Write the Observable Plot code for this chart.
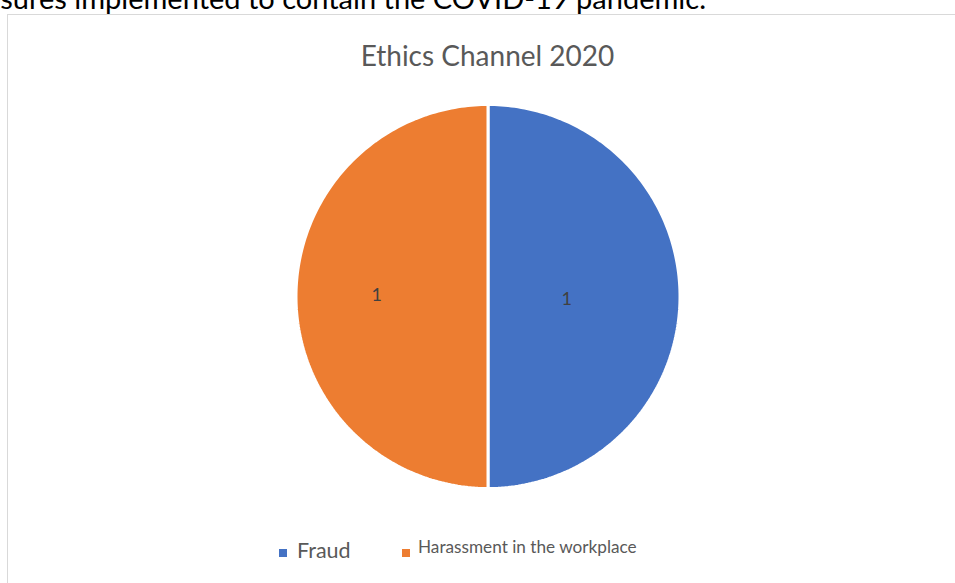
<!DOCTYPE html>
<html>
<head>
<meta charset="utf-8">
<script src="https://cdn.jsdelivr.net/npm/d3@7"></script>
<script src="https://cdn.jsdelivr.net/npm/@observablehq/plot@0.6"></script>
<style>
  html, body { margin: 0; padding: 0; background: #fff; width: 955px; height: 583px; overflow: hidden; }
  body { position: relative; font-family: Lato, "Open Sans", sans-serif; }
  #lead { position: absolute; right: 249px; top: -17px; font-size: 29px; line-height: 29px; color: #000; white-space: nowrap; text-align: right; font-family: Lato, sans-serif; }
  #frame { position: absolute; left: 7px; top: 14px; width: 960px; height: 580px; border: 1px solid #d9d9d9; box-sizing: border-box; }
  #title { position: absolute; left: 0; width: 975px; top: 41px; text-align: center; font-size: 28px; line-height: 28px; color: #595959; }
  #chart { position: absolute; left: 0; top: 96px; }
  .leg { position: absolute; white-space: nowrap; color: #595959; }
  .sw { position: absolute; width: 8px; height: 8px; }
</style>
</head>
<body>
<div id="lead">sures implemented to contain the COVID-19 pandemic.</div>
<div id="frame"></div>
<div id="title">Ethics Channel 2020</div>
<div id="chart"></div>
<div class="sw" id="sw0" style="left:279px; top:549px;"></div>
<div class="leg" id="lg0" style="left:297px; top:538px; font-size:21.5px; line-height:24px;"></div>
<div class="sw" id="sw1" style="left:402px; top:549px;"></div>
<div class="leg" id="lg1" style="left:418px; top:536.5px; font-size:17.2px; line-height:20px;"></div>
<script>
const categories = ["Fraud", "Harassment in the workplace"];
const values = [1, 1];
const colors = ["#4472C4", "#ED7D31"];

const data = categories.map((c, i) => ({cat: c, value: values[i]}));
const arcs = d3.pie().sort(null).value(d => d.value)(data);

// polygon outline of each slice in unit-circle data space (y up)
const poly = [];
arcs.forEach(a => {
  const n = 180;
  poly.push({cat: a.data.cat, x: 0, y: 0});
  for (let k = 0; k <= n; k++) {
    const t = a.startAngle + (a.endAngle - a.startAngle) * k / n;
    poly.push({cat: a.data.cat, x: Math.sin(t), y: Math.cos(t)});
  }
  poly.push({cat: a.data.cat, x: 0, y: 0});
});

// label positions (Excel best-fit style, inside slices)
const labelR = [0.41, 0.58];
const labels = arcs.map((a, i) => {
  const m = (a.startAngle + a.endAngle) / 2;
  return {cat: a.data.cat, value: a.data.value, x: labelR[i] * Math.sin(m), y: labelR[i] * Math.cos(m) + (i === 0 ? -0.015 : 0.005)};
});

const chart = Plot.plot({
  width: 955,
  height: 400,
  marginLeft: 295.5,
  marginRight: 275.5,
  marginTop: 8,
  marginBottom: 8,
  x: {domain: [-1, 1], axis: null},
  y: {domain: [-1, 1], axis: null},
  color: {domain: categories, range: colors},
  marks: [
    Plot.line(poly, {x: "x", y: "y", z: "cat", fill: "cat", stroke: "white", strokeWidth: 3, strokeLinejoin: "miter", curve: "linear"}),
    Plot.text(labels, {x: "x", y: "y", text: d => String(d.value), fill: "#404040", fontSize: 18, fontFamily: "Lato, sans-serif"})
  ]
});
document.getElementById("chart").appendChild(chart);

categories.forEach((c, i) => {
  document.getElementById("sw" + i).style.background = colors[i];
  document.getElementById("lg" + i).textContent = c;
});
</script>
</body>
</html>
